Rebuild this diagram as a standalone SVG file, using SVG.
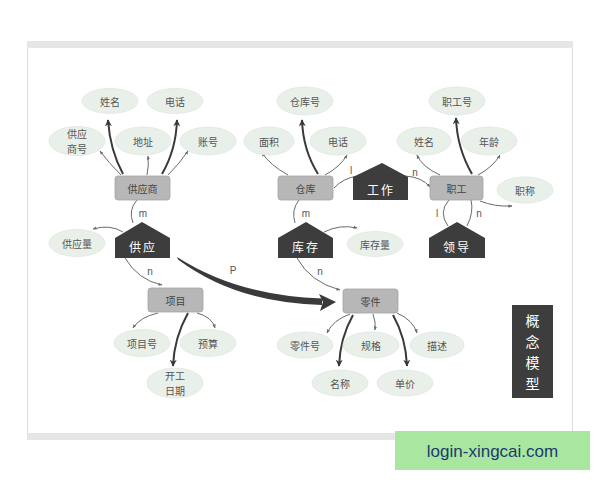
<svg xmlns="http://www.w3.org/2000/svg" width="600" height="480" viewBox="0 0 600 480">
<style>
.e{fill:#e9f0ea;stroke:#dfe6e0;stroke-width:0.8}
.r{fill:#b7b7b7;stroke:#a3a3a3;stroke-width:0.8}
.h{fill:#3d3d3d}
.t{font-family:"Noto Sans CJK SC","Noto Sans",sans-serif;font-size:10px;fill:#555;text-anchor:middle;dominant-baseline:central}
.tr{font-family:"Noto Sans CJK SC","Noto Sans",sans-serif;font-size:10px;fill:#444;text-anchor:middle;dominant-baseline:central}
.th{font-family:"Noto Sans CJK SC","Noto Sans",sans-serif;font-size:12px;fill:#fff;text-anchor:middle;dominant-baseline:central;letter-spacing:2px}
.lb{font-family:"Liberation Sans",sans-serif;font-size:10px;fill:#555;text-anchor:middle;dominant-baseline:central}
.tv{font-family:"Noto Sans CJK SC","Noto Sans",sans-serif;font-size:14px;fill:#fff;text-anchor:middle;dominant-baseline:central}
.c{fill:none;stroke:#6a6a6a;stroke-width:1;marker-end:url(#s)}
.cn{fill:none;stroke:#6a6a6a;stroke-width:1}
.k{fill:none;stroke:#3a3a3a;stroke-width:2;marker-end:url(#b)}
</style>
<defs>
<marker id="s" viewBox="0 0 10 10" refX="9" refY="5" markerWidth="4" markerHeight="4" orient="auto" markerUnits="userSpaceOnUse"><path d="M0,1 L10,5 L0,9 z" fill="#6a6a6a"/></marker>
<marker id="b" viewBox="0 0 10 10" refX="9" refY="5" markerWidth="7" markerHeight="7" orient="auto" markerUnits="userSpaceOnUse"><path d="M0,0 L10,5 L0,10 L3,5 z" fill="#3a3a3a"/></marker>
</defs>
<rect x="0" y="0" width="600" height="480" fill="#fff"/>
<g id="frame">
<rect x="27.5" y="41.5" width="545" height="398" fill="#fff" stroke="#dcdcdc"/>
<rect x="27" y="41" width="546" height="7" fill="#e6e6e6"/>
<rect x="27" y="433" width="546" height="7" fill="#e6e6e6"/>
</g>
<g id="connectors">
<path class="c" d="M121,175 Q108,162 100,151"/>
<path class="k" d="M123,174 Q110,150 108,120"/>
<path class="c" d="M147,175 Q149,165 148,156"/>
<path class="k" d="M162,174 Q176,150 177,120"/>
<path class="c" d="M168,175 Q180,163 188,151"/>
<path class="c" d="M288,175 Q270,165 262,153"/>
<path class="k" d="M318,174 Q303,150 302,120"/>
<path class="c" d="M325,175 Q340,167 347,155"/>
<path class="c" d="M440,175 Q422,167 417,155"/>
<path class="k" d="M472,174 Q457,148 456,118"/>
<path class="c" d="M478,175 Q493,167 500,155"/>
<path class="c" d="M480,201 Q495,207 512,206"/>
<path class="cn" d="M334,188 Q343,178 358,176"/>
<path class="c" d="M405,176 Q422,177 430,187"/>
<path class="cn" d="M449,200 Q438,212 448,226"/>
<path class="cn" d="M471,200 Q474,212 467,226"/>
<path class="cn" d="M137,200 Q128,210 133,223"/>
<path class="c" d="M123,232 Q110,224 93,229"/>
<path class="c" d="M125,258 Q138,280 162,285"/>
<path class="cn" d="M299,200 Q291,210 295,223"/>
<path class="c" d="M324,232 Q340,224 357,228"/>
<path class="c" d="M297,258 Q310,282 340,290"/>
<path class="c" d="M158,313 Q140,317 133,328"/>
<path class="k" d="M188,313 Q174,338 173,366"/>
<path class="c" d="M197,313 Q212,317 215,328"/>
<path class="c" d="M350,314 Q333,320 327,333"/>
<path class="k" d="M353,315 Q340,338 339,366"/>
<path class="c" d="M373,314 Q376,322 375,330"/>
<path class="k" d="M393,315 Q406,338 407,366"/>
<path class="c" d="M397,313 Q413,320 417,333"/>
<path d="M177,257 Q238,296 322,298.5 L322,305 Q236,303 178,259.5 Z" fill="#3a3a3a"/>
<path d="M319,294 L336,302 L320,311 L323,302 Z" fill="#3a3a3a"/>
<text class="lb" x="233" y="270">P</text>
<text class="lb" x="143" y="213">m</text>
<text class="lb" x="150" y="271">n</text>
<text class="lb" x="306" y="213">m</text>
<text class="lb" x="320" y="271">n</text>
<text class="lb" x="351" y="170">l</text>
<text class="lb" x="415" y="172">n</text>
<text class="lb" x="437" y="213">l</text>
<text class="lb" x="479" y="213">n</text>
</g>
<g id="n-gongyingshang"><rect class="r" x="115" y="176" width="55" height="24" rx="3"/><text class="tr" x="142.5" y="188">供应商</text></g>
<g id="n-cangku"><rect class="r" x="278" y="176" width="55" height="24" rx="3"/><text class="tr" x="305.5" y="188">仓库</text></g>
<g id="n-zhigong"><rect class="r" x="430" y="176" width="53" height="24" rx="3"/><text class="tr" x="456.5" y="188">职工</text></g>
<g id="n-xiangmu"><rect class="r" x="148" y="288" width="55" height="24" rx="3"/><text class="tr" x="175.5" y="300">项目</text></g>
<g id="n-lingjian"><rect class="r" x="343" y="289" width="55" height="24" rx="3"/><text class="tr" x="370.5" y="301">零件</text></g>
<g id="n-gongzuo"><path class="h" d="M353,177 L382,163 L408,177 L408,200 L353,200 Z"/><text class="th" x="381" y="189">工作</text></g>
<g id="n-gongying"><path class="h" d="M115,238 L142,222 L170,238 L170,258 L115,258 Z"/><text class="th" x="143" y="246">供应</text></g>
<g id="n-kucun"><path class="h" d="M278,238 L306,222 L333,238 L333,258 L278,258 Z"/><text class="th" x="306" y="246">库存</text></g>
<g id="n-lingdao"><path class="h" d="M429,238 L457,222 L485,238 L485,258 L429,258 Z"/><text class="th" x="457" y="246">领导</text></g>
<g id="n-xingming1"><ellipse class="e" cx="110" cy="101" rx="28" ry="12.5"/><text class="t" x="110" y="101">姓名</text></g>
<g id="n-dianhua1"><ellipse class="e" cx="175" cy="101" rx="28" ry="12.5"/><text class="t" x="175" y="101">电话</text></g>
<g id="n-gysh"><ellipse class="e" cx="77" cy="141" rx="28" ry="14.5"/><text class="t" x="77" y="133.5">供应</text><text class="t" x="77" y="148.5">商号</text></g>
<g id="n-dizhi"><ellipse class="e" cx="143" cy="141" rx="28" ry="14"/><text class="t" x="143" y="141">地址</text></g>
<g id="n-zhanghao"><ellipse class="e" cx="208" cy="141" rx="28" ry="14"/><text class="t" x="208" y="141">账号</text></g>
<g id="n-ckh"><ellipse class="e" cx="305" cy="101" rx="28" ry="14"/><text class="t" x="305" y="101">仓库号</text></g>
<g id="n-mianji"><ellipse class="e" cx="269" cy="141" rx="25" ry="14"/><text class="t" x="269" y="141">面积</text></g>
<g id="n-dianhua2"><ellipse class="e" cx="338" cy="141" rx="28" ry="14"/><text class="t" x="338" y="141">电话</text></g>
<g id="n-zgh"><ellipse class="e" cx="457" cy="101" rx="28" ry="14"/><text class="t" x="457" y="101">职工号</text></g>
<g id="n-xingming2"><ellipse class="e" cx="424" cy="141" rx="27" ry="14"/><text class="t" x="424" y="141">姓名</text></g>
<g id="n-nianling"><ellipse class="e" cx="489" cy="141" rx="28" ry="14"/><text class="t" x="489" y="141">年龄</text></g>
<g id="n-zhicheng"><ellipse class="e" cx="525" cy="190" rx="28" ry="13"/><text class="t" x="525" y="190">职称</text></g>
<g id="n-gyl"><ellipse class="e" cx="77" cy="243" rx="28" ry="13.5"/><text class="t" x="77" y="243">供应量</text></g>
<g id="n-kcl"><ellipse class="e" cx="375" cy="244" rx="28" ry="12.5"/><text class="t" x="375" y="244">库存量</text></g>
<g id="n-xmh"><ellipse class="e" cx="142" cy="343" rx="28" ry="13.5"/><text class="t" x="142" y="343">项目号</text></g>
<g id="n-yusuan"><ellipse class="e" cx="208" cy="343" rx="28" ry="13.5"/><text class="t" x="208" y="343">预算</text></g>
<g id="n-kgrq"><ellipse class="e" cx="175" cy="383" rx="28" ry="15"/><text class="t" x="175" y="375.5">开工</text><text class="t" x="175" y="390.5">日期</text></g>
<g id="n-ljh"><ellipse class="e" cx="305" cy="345" rx="28" ry="13"/><text class="t" x="305" y="345">零件号</text></g>
<g id="n-guige"><ellipse class="e" cx="371" cy="345" rx="28" ry="13"/><text class="t" x="371" y="345">规格</text></g>
<g id="n-miaoshu"><ellipse class="e" cx="437" cy="345" rx="27" ry="13"/><text class="t" x="437" y="345">描述</text></g>
<g id="n-mingcheng"><ellipse class="e" cx="340" cy="383" rx="28" ry="13"/><text class="t" x="340" y="383">名称</text></g>
<g id="n-danjia"><ellipse class="e" cx="405" cy="383" rx="28" ry="13"/><text class="t" x="405" y="383">单价</text></g>
<g id="n-title"><rect x="512" y="305" width="41" height="93" fill="#3d3d3d"/>
<text class="tv" x="532.5" y="320">概</text>
<text class="tv" x="532.5" y="341">念</text>
<text class="tv" x="532.5" y="362">模</text>
<text class="tv" x="532.5" y="383">型</text></g>
<g id="watermark"><rect x="395" y="431" width="195" height="39" fill="#a9e6a0"/><text x="492.5" y="451" font-family="'Liberation Sans',sans-serif" font-size="17" fill="#1c3a6e" text-anchor="middle" dominant-baseline="central">login-xingcai.com</text></g>
</svg>
